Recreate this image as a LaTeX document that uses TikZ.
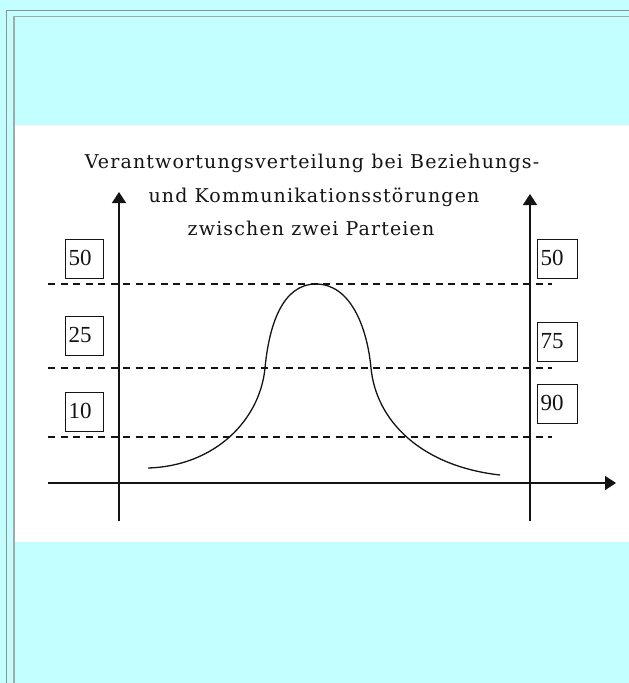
\documentclass[tikz,border=0pt]{standalone}
\usepackage{fontspec}
\setmainfont{Liberation Serif}
\newfontfamily\titlefont[LetterSpace=6]{DejaVu Serif}
\usetikzlibrary{arrows.meta,calc}
\definecolor{bgcyan}{RGB}{196,255,255}
\definecolor{frameA}{RGB}{144,144,144}
\definecolor{frameB}{RGB}{160,170,170}
\definecolor{ink}{RGB}{20,20,20}
\tikzset{
  axisline/.style={draw=ink, line width=1.5pt},
  axisarrow/.style={axisline, -{Triangle[length=11pt,width=14pt]}},
  guide/.style={draw=ink, line width=1.3pt, dash pattern=on 7pt off 5.5pt},
  bell/.style={draw=ink, line width=1.3pt},
  titleline/.style={anchor=base, inner sep=0pt, font=\titlefont\fontsize{19}{22}\selectfont, text=ink},
  numbox/.style={draw=ink, line width=1.2pt, anchor=north west, minimum height=39pt,
    inner xsep=3pt, inner ysep=0pt, text width=#1, align=left, text height=16pt, text depth=4pt,
    font=\fontsize{23}{24}\selectfont, text=ink},
  numbox/.default=32pt
}
\begin{document}
\begin{tikzpicture}[x=1pt,y=-1pt]
\useasboundingbox (0,0) rectangle (629,683);
\fill[bgcyan] (0,0) rectangle (629,683);
\fill[white] (15,125) rectangle (629,542);
\draw[frameA, line width=1pt] (6.5,683) -- (6.5,10.5) -- (629,10.5);
\draw[frameB, line width=1.5pt] (14,683) -- (14,16.5) -- (629,16.5);

% title
\node[titleline] (t1) at (312,168) {Verantwortungsverteilung bei Beziehungs-};
\node[titleline] (t2) at (314,202) {und Kommunikationsstörungen};
\node[titleline] (t3) at (311,235) {zwischen zwei Parteien};

% axes
\coordinate (ly0) at (119,521); \coordinate (ly1) at (119,192);
\coordinate (ry0) at (530,521); \coordinate (ry1) at (530,194);
\coordinate (x0) at (48,483);   \coordinate (x1) at (616,483);
\draw[axisarrow] (ly0) -- (ly1);
\draw[axisarrow] (ry0) -- (ry1);
\draw[axisarrow] (x0) -- (x1);

% dashed levels
\coordinate (d1a) at (48,284); \coordinate (d1b) at (552,284);
\coordinate (d2a) at (48,368); \coordinate (d2b) at (552,368);
\coordinate (d3a) at (48,437); \coordinate (d3b) at (552,437);
\draw[guide] (d1a) -- (d1b);
\draw[guide] (d2a) -- (d2b);
\draw[guide] (d3a) -- (d3b);

% bell curve
\coordinate (c0) at (148,468);
\coordinate (c1) at (265,368);
\coordinate (c2) at (316,284);
\coordinate (c3) at (371,368);
\coordinate (c4) at (500,475);
\draw[bell] (c0) .. controls (215,466) and (260,420) .. (c1)
               .. controls (269,326) and (282,284) .. (c2)
               .. controls (350,284) and (367,326) .. (c3)
               .. controls (376,420) and (420,466) .. (c4);

% value boxes
\node[numbox] (l50) at (65,239) {50};
\node[numbox] (l25) at (65,316) {25};
\node[numbox] (l10) at (65,392) {10};
\node[numbox=34pt] (r50) at (537,239) {50};
\node[numbox=34pt] (r75) at (537,322) {75};
\node[numbox=34pt] (r90) at (537,384) {90};
\end{tikzpicture}
\end{document}
